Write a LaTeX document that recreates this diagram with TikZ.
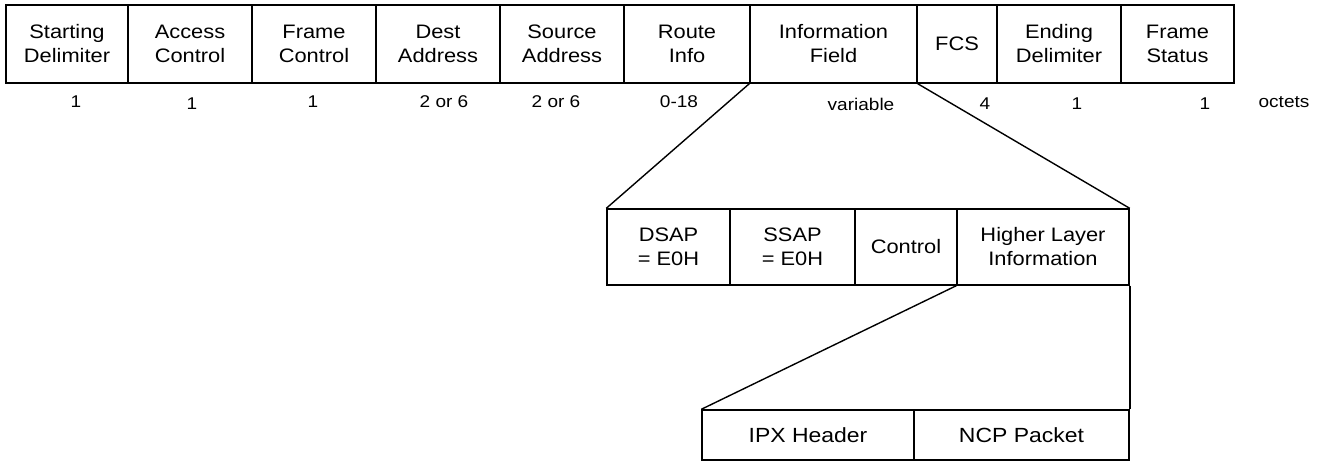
\documentclass[tikz,border=0pt]{standalone}
\usepackage{fontspec}
\setmainfont{Liberation Sans}
\newfontfamily\fieldfont[FakeStretch=1.12]{Liberation Sans}
\tikzset{
  field/.style={draw, line width=1.4pt, inner sep=0pt, align=center,
    font=\fieldfont\fontsize{19.5}{24}\selectfont},
  bigfield/.style={field, font=\fieldfont\fontsize{20.5}{25}\selectfont},
  num/.style={inner sep=0pt, font=\fieldfont\fontsize{17}{20}\selectfont},
  link/.style={line width=1.4pt},
}
\newcommand{\fieldbox}[6]{% name, x1, x2, y1, y2, text
  \node[field, minimum width={#3-#2}, minimum height={#5-#4}] (#1) at ({(#2+#3)/2},{(#4+#5)/2}) {#6};}
\begin{document}
\begin{tikzpicture}[x=1pt,y=-1pt]
\useasboundingbox (0,0) rectangle (1324,464);
% top row
\fieldbox{sd}{6}{128}{5}{83}{Starting\\Delimiter}
\fieldbox{ac}{128}{252}{5}{83}{Access\\Control}
\fieldbox{fc}{252}{376}{5}{83}{Frame\\Control}
\fieldbox{da}{376}{500}{5}{83}{Dest\\Address}
\fieldbox{sa}{500}{624}{5}{83}{Source\\Address}
\fieldbox{ri}{624}{750}{5}{83}{Route\\Info}
\fieldbox{info}{750}{917}{5}{83}{Information\\Field}
\fieldbox{fcs}{917}{997}{5}{83}{FCS}
\fieldbox{ed}{997}{1121}{5}{83}{Ending\\Delimiter}
\fieldbox{fs}{1121}{1234}{5}{83}{Frame\\Status}
% octet counts
\node[num] (n1) at (76,102) {1};
\node[num] (n2) at (192,104) {1};
\node[num] (n3) at (313,102) {1};
\node[num] (n4) at (444,102) {2 or 6};
\node[num] (n5) at (556,102) {2 or 6};
\node[num] (n6) at (679,102) {0-18};
\node[num] (n7) at (861,104) {variable};
\node[num] (n8) at (985,104) {4};
\node[num] (n9) at (1077,104) {1};
\node[num] (n10) at (1205,104) {1};
\node[num] (oct) at (1284,102) {octets};
% second row
\fieldbox{dsap}{607}{730}{209}{285}{DSAP\\= E0H}
\fieldbox{ssap}{730}{855}{209}{285}{SSAP\\= E0H}
\fieldbox{ctl}{855}{957}{209}{285}{Control}
\fieldbox{hli}{957}{1129}{209}{285}{Higher Layer\\Information}
% third row
\node[bigfield, minimum width=212, minimum height=50] (ipx) at (808,435) {IPX Header};
\node[bigfield, minimum width=215, minimum height=50] (ncp) at (1021.5,435) {NCP Packet};
% connectors
\draw[link] (info.south west) -- (dsap.north west);
\draw[link] (info.south east) -- (hli.north east);
\draw[link] (hli.south west) -- (ipx.north west);
\draw[link, line width=1.8pt] (hli.south east) -- (ncp.north east);
\end{tikzpicture}
\end{document}
